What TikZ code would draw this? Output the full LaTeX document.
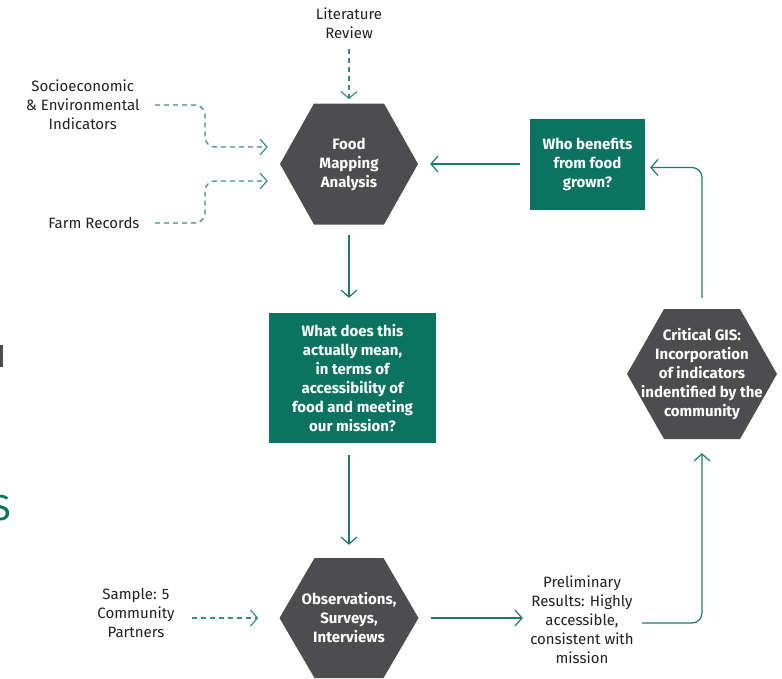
\documentclass[tikz,border=0pt]{standalone}
\usepackage{fontspec}
\setmainfont{Fira Sans}
\usetikzlibrary{arrows.meta}

\definecolor{hexgray}{HTML}{4D4D4F}
\definecolor{boxgreen}{HTML}{0B7360}
\definecolor{linegreen}{HTML}{1B7A68}
\definecolor{dashgreen}{HTML}{3A8F80}
\definecolor{txtgray}{HTML}{231F20}

\tikzset{
  hexnode/.style n args={3}{minimum width=#1, minimum height=#2, inner sep=0pt,
    text=white, align=center, font=\bfseries\fontsize{15}{19}\selectfont,
    path picture={\fill[hexgray] (path picture bounding box.west)
      -- ([xshift=#3]path picture bounding box.north west)
      -- ([xshift=-#3]path picture bounding box.north east)
      -- (path picture bounding box.east)
      -- ([xshift=-#3]path picture bounding box.south east)
      -- ([xshift=#3]path picture bounding box.south west) -- cycle;}},
  greenbox/.style={fill=boxgreen, text=white, align=center, inner sep=0pt,
    font=\bfseries\fontsize{15}{19}\selectfont},
  lbl/.style={text=txtgray, align=center, font=\fontsize{15}{19}\selectfont},
  flow/.style={draw=linegreen, line width=1.2pt, rounded corners=10pt,
    -{Straight Barb[length=7pt,width=16pt]}},
  feed/.style={flow, draw=dashgreen, dash pattern=on 5pt off 4pt}
}

\begin{document}
\begin{tikzpicture}[x=1pt,y=-1pt]
  \useasboundingbox (0,0) rectangle (782,678);
  % Fragmenty z lewej krawedzi
  \fill[hexgray] (0,345) rectangle (3,367);
  \node[text=boxgreen, font=\fontsize{36}{36}\selectfont] (edge) at (1,508) {S};
  % Etapy glowne
  \node[hexnode={138pt}{121pt}{34pt}] (fma) at (349,164) {Food\\Mapping\\Analysis};
  \node[greenbox, minimum width=167pt, minimum height=130pt] (mean) at (352.5,378)
    {What does this\\actually mean,\\in terms of\\accessibility of\\food and meeting\\our mission?};
  \node[hexnode={139pt}{120pt}{35pt}] (obs) at (349,618) {Observations,\\Surveys,\\Interviews};
  \node[hexnode={150pt}{130pt}{37pt}] (gis) at (702,374)
    {Critical GIS:\\Incorporation\\of indicators\\indentified by the\\community};
  \node[greenbox, minimum width=115pt, minimum height=91pt] (who) at (587.5,164.5)
    {Who benefits\\from food\\grown?};
  % Zrodla danych
  \node[lbl] (lit) at (349,23) {Literature\\Review};
  \node[lbl, anchor=east] (socio) at (143,105) {Socioeconomic\\\& Environmental\\Indicators};
  \node[lbl, anchor=east] (farm) at (143,223) {Farm Records};
  \node[lbl] (sample) at (136,613) {Sample: 5\\Community\\Partners};
  \node[lbl] (prelim) at (582,620)
    {Preliminary\\Results: Highly\\accessible,\\consistent with\\mission};
  % Polaczenia przerywane
  \draw[feed] (lit.south) ++(0,7) -- ([yshift=4pt]fma.north);
  \draw[feed] ([xshift=12pt]socio.east) -- ++(50,0) |- ([xshift=-12pt,yshift=17pt]fma.west);
  \draw[feed] ([xshift=12pt]farm.east) -- ++(50,0) |- ([xshift=-12pt,yshift=-17pt]fma.west);
  \draw[feed] (sample.east |- obs.west) ++(14,0) -- ([xshift=-21pt]obs.west);
  % Polaczenia ciagle
  \draw[flow] ([yshift=-10pt]fma.south) -- ([yshift=15pt]fma.south |- mean.north);
  \draw[flow] ([yshift=-12pt]obs.north |- mean.south) -- ([yshift=13pt]obs.north);
  \draw[flow] ([xshift=12pt]obs.east) -- ([xshift=-4pt]prelim.west |- obs.east);
  \draw[flow] (prelim.east) ++(5,3) -| ([yshift=-14pt]gis.south);
  \draw[flow] ([yshift=11pt]gis.north) |- ([xshift=5pt,yshift=-3pt]who.east);
  \draw[flow] ([xshift=-10pt]who.west |- fma.east) -- ([xshift=12pt]fma.east);
\end{tikzpicture}
\end{document}
